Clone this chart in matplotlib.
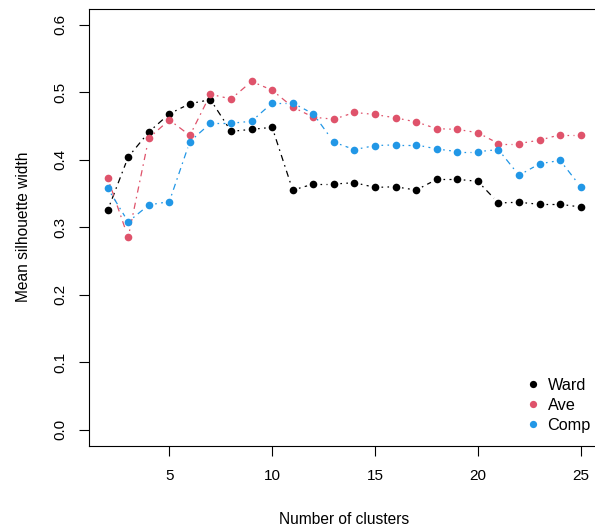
import numpy as np
import matplotlib
matplotlib.use("Agg")
import matplotlib.pyplot as plt

# silhouette widths
n_clusters = list(range(2, 26))
ward = [0.325, 0.404, 0.441, 0.468, 0.483, 0.489, 0.442, 0.445, 0.448, 0.355, 0.364, 0.364,
        0.366, 0.359, 0.360, 0.355, 0.371, 0.371, 0.368, 0.336, 0.337, 0.334, 0.334, 0.330]
ave = [0.373, 0.285, 0.432, 0.459, 0.436, 0.497, 0.490, 0.516, 0.503, 0.478, 0.463, 0.460,
       0.470, 0.467, 0.462, 0.456, 0.446, 0.445, 0.440, 0.424, 0.424, 0.429, 0.437, 0.437]
comp = [0.358, 0.308, 0.333, 0.338, 0.427, 0.454, 0.454, 0.457, 0.484, 0.484, 0.468, 0.426,
        0.415, 0.421, 0.422, 0.422, 0.416, 0.412, 0.412, 0.415, 0.377, 0.394, 0.399, 0.360]

series = [("Ward", ward, "#000000"), ("Ave", ave, "#DF536B"), ("Comp", comp, "#2297E6")]
y_ticks = [0.0, 0.1, 0.2, 0.3, 0.4, 0.5, 0.6]
x_ticks = [5, 10, 15, 20, 25]

plt.rcParams['font.family'] = ['Liberation Sans', 'DejaVu Sans']

W, H = 595, 532
fig = plt.figure(figsize=(W / 100, H / 100), dpi=100)
# R-style plot region (runs past the right edge of the canvas, as in the crop)
left, right, top, bottom = 88.7, 599.6, 8.5, 446.0
ax = fig.add_axes([left / W, 1 - bottom / H, (right - left) / W, (bottom - top) / H])

x = np.array(n_clusters, dtype=float)
ax.set_xlim(x.min() - 0.04 * (x.max() - x.min()), x.max() + 0.04 * (x.max() - x.min()))
ax.set_ylim(-0.024, 0.624)

gap = 6.5  # px between point centre and line start (type="b")
dash = (1.3, 3.5, 5, 3.5)
to_disp = ax.transData
to_data = ax.transData.inverted()

for name, vals, col in series:
    pts = to_disp.transform(np.column_stack([x, vals]))
    for i in range(len(pts) - 1):
        p0, p1 = pts[i], pts[i + 1]
        d = p1 - p0
        L = np.hypot(*d)
        if L <= 2 * gap:
            continue
        u = d / L
        a = to_data.transform(p0 + u * gap)
        b = to_data.transform(p1 - u * gap)
        ax.plot([a[0], b[0]], [a[1], b[1]], color=col, lw=0.9, dashes=dash,
                solid_capstyle='butt', dash_capstyle='butt')
    ax.plot(x, vals, 'o', color=col, markersize=5.5, markeredgewidth=0, label=name)

ax.set_xticks(x_ticks)
ax.set_yticks(y_ticks)
ax.set_yticklabels([f"{v:.1f}" for v in y_ticks], rotation=90, va='center')
ax.tick_params(axis='both', direction='out', length=7.2, width=0.8, labelsize=11,
               colors='black')
ax.tick_params(axis='x', pad=9)
ax.tick_params(axis='y', pad=8)
for s in ax.spines.values():
    s.set_linewidth(0.8)
ax.spines['right'].set_visible(False)

ax.set_xlabel("Number of clusters", fontsize=11.2, labelpad=21)
ax.set_ylabel("Mean silhouette width", fontsize=11.2, labelpad=16)

ax.legend(loc='lower right', bbox_to_anchor=(599 / W, 1 - 441 / H),
          bbox_transform=fig.transFigure, frameon=False, fontsize=11.7,
          handlelength=0.6, handletextpad=0.62, labelspacing=0.31, borderpad=0,
          markerscale=0.95)

fig.savefig("out.png", dpi=100)
